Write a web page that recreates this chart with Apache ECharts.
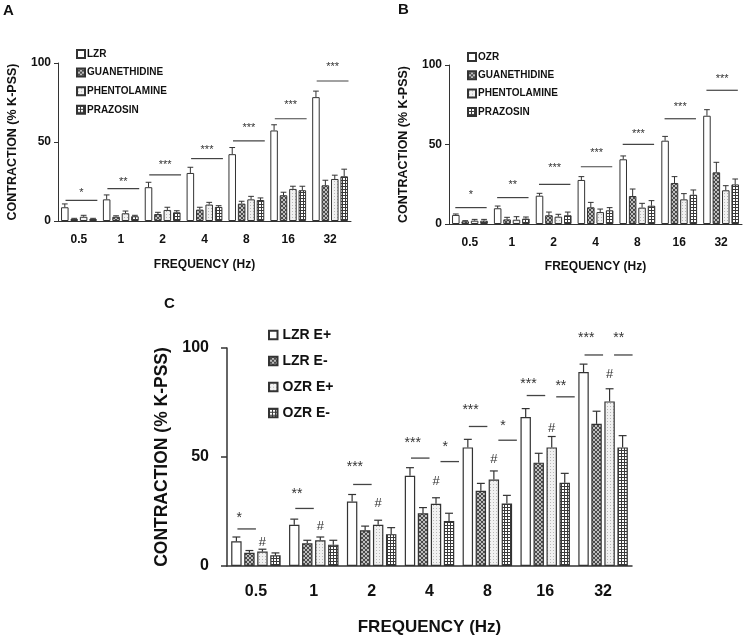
<!DOCTYPE html>
<html><head><meta charset="utf-8">
<script src="https://cdn.jsdelivr.net/npm/echarts@6/dist/echarts.min.js"></script>
<style>html,body{margin:0;padding:0;background:#fff}#c{width:746px;height:639px}</style>
</head><body><div id="c"></div>
<script>
// ---------- DATA ----------
const categories = ['0.5', '1', '2', '4', '8', '16', '32'];

// Panel A (LZR)
const namesA = ['LZR', 'GUANETHIDINE', 'PHENTOLAMINE', 'PRAZOSIN'];
const aLZR = [8.7, 13.7, 21.4, 30.4, 42.3, 57.3, 78.4];
const aLZRErr = [2.1, 2.8, 3.1, 3.6, 4.2, 3.6, 3.8];
const aGUAN = [1.3, 2.7, 4.4, 7.2, 11.0, 16.3, 22.6];
const aGUANErr = [0.4, 0.6, 1.1, 1.5, 1.5, 1.9, 3.2];
const aPHENT = [2.7, 4.9, 7.0, 10.4, 13.7, 20.3, 26.6];
const aPHENTErr = [0.9, 1.4, 1.7, 1.4, 1.9, 1.7, 2.4];
const aPRAZ = [1.3, 3.0, 5.5, 8.9, 13.3, 19.5, 28.3];
const aPRAZErr = [0.4, 0.6, 1.0, 0.8, 1.3, 2.5, 4.5];
const sigALineY = [13.1, 20.5, 29.2, 39.5, 50.7, 64.7, 88.6];
const sigAStarY = [19.2, 26.0, 37.0, 46.5, 60.3, 75.3, 98.9];
const sigAText = ['*', '**', '***', '***', '***', '***', '***'];

// Panel B (OZR)
const namesB = ['OZR', 'GUANETHIDINE', 'PHENTOLAMINE', 'PRAZOSIN'];
const bOZR = [5.7, 9.9, 17.8, 27.7, 40.7, 52.4, 68.1];
const bOZRErr = [0.6, 1.4, 1.5, 2.1, 2.1, 2.7, 3.8];
const bGUAN = [1.7, 2.9, 5.5, 10.5, 17.6, 25.8, 32.5];
const bGUANErr = [0.4, 1.3, 2.0, 3.1, 4.4, 4.0, 6.3];
const bPHENT = [2.1, 2.7, 4.6, 7.5, 10.3, 15.5, 21.2];
const bPHENTErr = [0.8, 1.9, 1.5, 1.9, 2.7, 3.6, 2.9];
const bPRAZ = [2.1, 3.4, 5.5, 8.6, 11.5, 18.4, 24.9];
const bPRAZErr = [0.8, 1.0, 2.0, 1.7, 3.2, 3.0, 3.4];
const sigBLineY = [10.3, 16.6, 24.9, 36.0, 50.1, 66.2, 84.1];
const sigBStarY = [19.7, 26.0, 37.1, 46.5, 58.5, 75.5, 92.7];
const sigBText = ['*', '**', '***', '***', '***', '***', '***'];

// Panel C (endothelium)
const namesC = ['LZR E+', 'LZR E-', 'OZR E+', 'OZR E-'];
const cLZRp = [11.3, 18.9, 29.6, 41.4, 54.4, 68.3, 89.0];
const cLZRpErr = [2.0, 2.6, 3.2, 3.7, 3.7, 3.9, 3.6];
const cLZRm = [6.1, 10.4, 16.4, 24.2, 34.5, 47.4, 65.2];
const cLZRmErr = [1.0, 1.4, 1.9, 2.6, 3.4, 4.3, 5.8];
const cOZRp = [6.6, 11.8, 18.9, 28.5, 39.7, 54.4, 75.5];
const cOZRpErr = [1.1, 1.5, 2.1, 2.8, 3.9, 5.0, 5.8];
const cOZRm = [4.9, 9.8, 14.6, 20.6, 28.7, 38.2, 54.4];
const cOZRmErr = [1.1, 2.0, 3.0, 3.6, 3.7, 4.3, 5.4];
const sigC1LineY = [17.0, 26.4, 37.4, 49.5, 64.0, 78.2, 96.8];
const sigC1StarY = [23.3, 34.5, 46.6, 57.8, 72.9, 84.7, 106.1];
const sigC1Text = ['*', '**', '***', '***', '***', '***', '***'];
const sigC2Cat = [3, 4, 5, 6];
const sigC2LineY = [47.9, 57.7, 77.6, 96.8];
const sigC2StarY = [55.8, 65.5, 83.9, 106.1];
const sigC2Text = ['*', '*', '**', '**'];
const hashY = [11.0, 18.3, 28.7, 38.7, 48.9, 63.2, 87.7];

// ---------- STYLE ----------
const FONT = 'Liberation Sans, Arial, Helvetica, sans-serif';
const AX = '#333';
const BW = 0.18, GAP = 0.25;

function pattern(kind) {
  const c = document.createElement('canvas');
  const ctx = c.getContext('2d');
  if (kind === 'hatch') {
    c.width = 4; c.height = 4;
    ctx.fillStyle = '#bdbdbd'; ctx.fillRect(0, 0, 4, 4);
    ctx.fillStyle = '#4a4a4a';
    for (let i = 0; i < 4; i++) { ctx.fillRect(i, i, 1, 1); ctx.fillRect(3 - i, i, 1, 1); }
  } else if (kind === 'dots') {
    c.width = 3; c.height = 3;
    ctx.fillStyle = '#f1f1f1'; ctx.fillRect(0, 0, 3, 3);
    ctx.fillStyle = '#b8b8b8'; ctx.fillRect(1, 1, 1, 1);
  } else {
    c.width = 3; c.height = 3;
    ctx.fillStyle = '#ffffff'; ctx.fillRect(0, 0, 3, 3);
    ctx.fillStyle = '#3a3a3a'; ctx.fillRect(0, 0, 3, 1); ctx.fillRect(0, 0, 1, 3);
  }
  return { image: c, repeat: 'repeat' };
}
const fills = ['#ffffff', pattern('hatch'), pattern('dots'), pattern('grid')];

function barX(api, cat, k) {
  const band = api.size([1, 0])[0];
  const bw = band * BW;
  const total = 4 * bw + 3 * GAP * bw;
  return { cx: api.coord([cat, 0])[0] - total / 2 + bw / 2 + k * bw * (1 + GAP), bw, band };
}

function errSeries(gi, groups, lw) {
  const data = [];
  groups.forEach((g, k) => g[0].forEach((m, i) => data.push([i, m, g[1][i], k])));
  return {
    type: 'custom', xAxisIndex: gi, yAxisIndex: gi, silent: true, z: 3, clip: false,
    encode: { x: 0, y: 1 },
    data,
    renderItem: (params, api) => {
      const cat = api.value(0), m = api.value(1), e = api.value(2), k = api.value(3);
      const p = barX(api, cat, k);
      const y0 = api.coord([cat, m])[1], y1 = api.coord([cat, m + e])[1];
      const h = p.bw * 0.38;
      const st = { stroke: '#333', lineWidth: lw };
      return { type: 'group', children: [
        { type: 'line', shape: { x1: p.cx, y1: y0, x2: p.cx, y2: y1 }, style: st },
        { type: 'line', shape: { x1: p.cx - h, y1: y1, x2: p.cx + h, y2: y1 }, style: st }
      ] };
    }
  };
}

// f0/f1: line start/end as fraction of category band; starAt: 'mid' or fraction of band
function sigSeries(gi, cats, lineY, starY, text, f0, f1, starAt, fs, lw) {
  return {
    type: 'custom', xAxisIndex: gi, yAxisIndex: gi, silent: true, z: 4, clip: false,
    encode: { x: 0, y: 1 },
    data: cats.map((c, i) => [c, lineY[i], starY[i]]),
    renderItem: (params, api) => {
      const i = params.dataIndex;
      const cat = api.value(0);
      const band = api.size([1, 0])[0];
      const left = api.coord([cat, 0])[0] - band / 2;
      const x0 = left + f0 * band, x1 = left + f1 * band;
      const y = api.coord([cat, api.value(1)])[1];
      const ys = api.coord([cat, api.value(2)])[1];
      const tx = starAt === 'mid' ? (x0 + x1) / 2 : left + starAt * band;
      return { type: 'group', children: [
        { type: 'line', shape: { x1: x0, y1: y, x2: x1, y2: y }, style: { stroke: '#444', lineWidth: lw } },
        { type: 'text', x: tx, y: ys + 0.23 * fs, style: { text: text[i], fontSize: fs, fontFamily: FONT, fill: '#333', align: 'center', verticalAlign: 'middle' } }
      ] };
    }
  };
}

function hashSeries(gi) {
  return {
    type: 'custom', xAxisIndex: gi, yAxisIndex: gi, silent: true, z: 4, clip: false,
    encode: { x: 0, y: 1 },
    data: hashY.map((v, i) => [i, v]),
    renderItem: (params, api) => {
      const cat = api.value(0);
      const p = barX(api, cat, 2);
      const y = api.coord([cat, api.value(1)])[1];
      return { type: 'text', x: p.cx, y: y, style: { text: '#', fontSize: 13, fontFamily: FONT, fill: '#333', align: 'center', verticalAlign: 'middle' } };
    }
  };
}

function bars(gi, prefix, names, vals, lw) {
  return names.map((n, k) => ({
    type: 'bar', name: prefix + '|' + n, xAxisIndex: gi, yAxisIndex: gi, data: vals[k],
    barWidth: (BW * 100) + '%', barGap: (GAP * 100) + '%', silent: true, z: 2,
    itemStyle: { color: fills[k], borderColor: '#333', borderWidth: lw }
  }));
}

function xAxis(gi, fs, margin, nameGap, nameFs, tick, lw) {
  return {
    type: 'category', gridIndex: gi, data: categories,
    axisLine: { lineStyle: { color: AX, width: lw } },
    axisTick: { length: tick, lineStyle: { color: AX, width: lw } },
    axisLabel: { fontSize: fs, fontWeight: 'bold', color: '#111', margin, fontFamily: FONT },
    name: 'FREQUENCY (Hz)', nameLocation: 'middle', nameGap,
    nameTextStyle: { fontSize: nameFs, fontWeight: 'bold', color: '#111', fontFamily: FONT }
  };
}
function yAxis(gi, fs, margin, nameGap, nameFs, tick, lw) {
  return {
    type: 'value', gridIndex: gi, min: 0, max: 100, interval: 50,
    splitLine: { show: false },
    axisLine: { show: true, lineStyle: { color: AX, width: lw } },
    axisTick: { show: true, length: tick, lineStyle: { color: AX, width: lw } },
    axisLabel: { fontSize: fs, fontWeight: 'bold', color: '#111', margin, fontFamily: FONT },
    name: 'CONTRACTION (% K-PSS)', nameLocation: 'middle', nameRotate: 90, nameGap,
    nameTextStyle: { fontSize: nameFs, fontWeight: 'bold', color: '#111', fontFamily: FONT }
  };
}
function legend(prefix, names, left, top, fs, gap, size, lh, padL) {
  return {
    data: names.map(n => prefix + '|' + n), orient: 'vertical', left, top, padding: 0,
    itemWidth: size, itemHeight: size, itemGap: gap, icon: 'rect', selectedMode: false,
    formatter: n => n.split('|')[1],
    textStyle: { fontSize: fs, fontWeight: 'bold', color: '#111', fontFamily: FONT, lineHeight: lh, padding: [0, 0, 0, padL] }
  };
}

const chart = echarts.init(document.getElementById('c'), null, { renderer: 'canvas' });
chart.setOption({
  animation: false,
  backgroundColor: '#fff',
  title: [
    { text: 'A', left: 3, top: 3, padding: 0, textStyle: { fontSize: 15, fontWeight: 'bold', color: '#111', fontFamily: FONT } },
    { text: 'B', left: 398, top: 2, padding: 0, textStyle: { fontSize: 15, fontWeight: 'bold', color: '#111', fontFamily: FONT } },
    { text: 'C', left: 164, top: 296, padding: 0, textStyle: { fontSize: 15, fontWeight: 'bold', color: '#111', fontFamily: FONT } }
  ],
  legend: [
    legend('A', namesA, 76, 49, 10, 8.6, 8, 10, -3),
    legend('B', namesB, 467, 52, 10, 8.3, 8, 10, -3),
    legend('C', namesC, 268, 328, 14, 12, 8.5, 14, 0)
  ],
  grid: [
    { left: 58, top: 63, width: 293, height: 158, outerBoundsMode: 'none' },
    { left: 449, top: 65, width: 293, height: 159, outerBoundsMode: 'none' },
    { left: 227, top: 348, width: 405, height: 218, outerBoundsMode: 'none' }
  ],
  xAxis: [
    xAxis(0, 12, 13, 38, 12, 4, 1),
    xAxis(1, 12, 13, 37, 12, 4, 1),
    xAxis(2, 16, 18, 53, 17, 6, 1.5)
  ],
  yAxis: [
    yAxis(0, 12, 7, 39, 12.5, 4, 1),
    yAxis(1, 12, 7, 39, 12.5, 4, 1),
    yAxis(2, 16, 18, 53, 17.5, 6, 1.5)
  ],
  series: [
    ...bars(0, 'A', namesA, [aLZR, aGUAN, aPHENT, aPRAZ], 1),
    errSeries(0, [[aLZR, aLZRErr], [aGUAN, aGUANErr], [aPHENT, aPHENTErr], [aPRAZ, aPRAZErr]], 1),
    sigSeries(0, categories.map((c, i) => i), sigALineY, sigAStarY, sigAText, 0.18, 0.94, 'mid', 11, 1.2),
    ...bars(1, 'B', namesB, [bOZR, bGUAN, bPHENT, bPRAZ], 1),
    errSeries(1, [[bOZR, bOZRErr], [bGUAN, bGUANErr], [bPHENT, bPHENTErr], [bPRAZ, bPRAZErr]], 1),
    sigSeries(1, categories.map((c, i) => i), sigBLineY, sigBStarY, sigBText, 0.15, 0.9, 'mid', 11, 1.2),
    ...bars(2, 'C', namesC, [cLZRp, cLZRm, cOZRp, cOZRm], 1.2),
    errSeries(2, [[cLZRp, cLZRpErr], [cLZRm, cLZRmErr], [cOZRp, cOZRpErr], [cOZRm, cOZRmErr]], 1.2),
    sigSeries(2, categories.map((c, i) => i), sigC1LineY, sigC1StarY, sigC1Text, 0.18, 0.5, 0.21, 14, 1.3),
    sigSeries(2, sigC2Cat, sigC2LineY, sigC2StarY, sigC2Text, 0.69, 1.01, 0.77, 14, 1.3),
    hashSeries(2)
  ]
});
</script></body></html>
